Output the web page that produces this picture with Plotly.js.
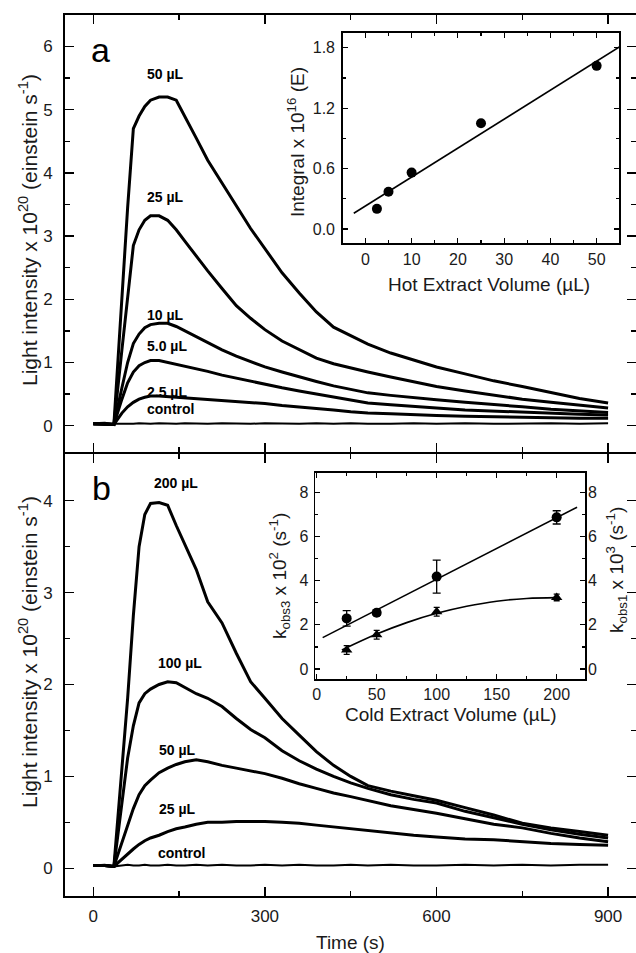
<!DOCTYPE html>
<html>
<head>
<meta charset="utf-8">
<script src="https://cdn.plot.ly/plotly-3.0.1.min.js"></script>
<style>html,body{margin:0;padding:0;background:#fff;}#chart{width:636px;height:953px;}</style>
</head>
<body>
<div id="chart"></div>
<script>
// ---------- main panels: time axis (s) ----------
const time = [0, 20, 36, 50, 60, 70, 80, 90, 100, 115, 130, 145, 160, 180, 200, 225, 250, 275, 300, 330, 360, 390, 420, 450, 480, 520, 560, 600, 650, 700, 750, 800, 850, 900];

// panel a: hot extract volumes (light intensity x 1e20 einstein/s)
const hot50  = [0.03,0.04,0.02,2.05,3.45,4.7,4.9,5.05,5.15,5.2,5.2,5.15,4.9,4.55,4.2,3.85,3.48,3.12,2.8,2.42,2.1,1.8,1.56,1.42,1.29,1.15,1.04,0.93,0.82,0.71,0.62,0.52,0.43,0.36];
const hot25  = [0.03,0.03,0.02,1.2,2.05,2.85,3.1,3.25,3.32,3.32,3.25,3.1,2.92,2.68,2.45,2.17,1.9,1.7,1.52,1.34,1.2,1.07,0.98,0.91,0.85,0.77,0.69,0.62,0.55,0.48,0.42,0.37,0.32,0.28];
const hot10  = [0.03,0.03,0.02,0.6,1.0,1.3,1.45,1.55,1.6,1.62,1.62,1.57,1.5,1.4,1.31,1.2,1.1,1.01,0.93,0.85,0.77,0.7,0.63,0.57,0.52,0.48,0.44,0.41,0.37,0.34,0.3,0.26,0.23,0.21];
const hot5   = [0.03,0.03,0.02,0.42,0.68,0.85,0.95,1.0,1.03,1.03,1.0,0.97,0.95,0.9,0.86,0.8,0.75,0.7,0.65,0.6,0.55,0.5,0.45,0.4,0.36,0.33,0.3,0.28,0.25,0.23,0.21,0.2,0.18,0.17];
const hot2p5 = [0.03,0.03,0.02,0.2,0.3,0.37,0.42,0.45,0.47,0.47,0.46,0.45,0.44,0.43,0.42,0.4,0.38,0.37,0.35,0.32,0.3,0.28,0.25,0.22,0.2,0.19,0.17,0.16,0.15,0.14,0.13,0.13,0.12,0.12];
const hotCtl = [0.03,0.03,0.02,0.03,0.03,0.03,0.04,0.03,0.03,0.04,0.03,0.03,0.04,0.03,0.03,0.04,0.03,0.03,0.04,0.03,0.03,0.04,0.03,0.04,0.03,0.03,0.04,0.03,0.04,0.03,0.04,0.04,0.03,0.04];

// panel b: cold extract volumes
const cold200 = [0.03,0.03,0.02,1.1,1.85,2.75,3.5,3.85,3.97,3.98,3.95,3.73,3.52,3.25,2.9,2.67,2.34,2.03,1.85,1.63,1.45,1.27,1.12,1.0,0.9,0.84,0.79,0.74,0.66,0.58,0.49,0.44,0.4,0.36];
const cold100 = [0.03,0.03,0.02,0.7,1.2,1.55,1.8,1.9,1.95,2.0,2.03,2.02,1.97,1.9,1.85,1.76,1.63,1.51,1.42,1.28,1.17,1.08,1.0,0.93,0.87,0.8,0.75,0.71,0.62,0.55,0.48,0.42,0.37,0.33];
const cold50  = [0.03,0.03,0.02,0.28,0.47,0.65,0.8,0.9,0.96,1.04,1.09,1.13,1.16,1.18,1.16,1.12,1.09,1.06,1.03,0.98,0.92,0.87,0.82,0.78,0.74,0.68,0.64,0.6,0.54,0.48,0.44,0.38,0.33,0.29];
const cold25  = [0.03,0.03,0.02,0.1,0.15,0.21,0.26,0.3,0.33,0.36,0.4,0.43,0.45,0.48,0.5,0.5,0.51,0.51,0.51,0.5,0.49,0.47,0.45,0.43,0.41,0.38,0.36,0.34,0.32,0.31,0.29,0.27,0.26,0.25];
const coldCtl = [0.03,0.04,0.02,0.03,0.04,0.03,0.03,0.04,0.03,0.03,0.04,0.03,0.03,0.04,0.03,0.04,0.03,0.03,0.04,0.03,0.04,0.03,0.03,0.04,0.03,0.04,0.03,0.03,0.04,0.03,0.04,0.03,0.04,0.04];

const hotLabels  = ["50 µL", "25 µL", "10 µL", "5.0 µL", "2.5 µL", "control"];
const hotLabelY  = [5.57, 3.62, 1.75, 1.26, 0.53, 0.26];
const coldLabels = ["200 µL", "100 µL", "50 µL", "25 µL", "control"];
const coldLabelY = [4.19, 2.23, 1.29, 0.64, 0.165];
const coldLabelX = [103, 110, 111, 111, 110];

// ---------- inset a ----------
const hotVol      = [2.5, 5, 10, 25, 50];
const hotIntegral = [0.2, 0.37, 0.56, 1.05, 1.62];
const hotFitX     = [-2.5, 55];
const hotFitY     = [0.156, 1.81];

// ---------- inset b ----------
const coldVol  = [25, 50, 100, 200];
const kobs3    = [2.29, 2.55, 4.18, 6.86];
const kobs3Err = [0.35, 0.12, 0.75, 0.3];
const kobs1    = [0.86, 1.55, 2.59, 3.24];
const kobs1Err = [0.2, 0.2, 0.2, 0.15];
const k3FitX   = [5, 217];
const k3FitY   = [1.42, 7.32];
const k1FitX   = [21, 50, 75, 100, 125, 150, 175, 200];
const k1FitY   = [0.86, 1.58, 2.10, 2.52, 2.84, 3.07, 3.19, 3.23];

// ---------- build ----------
const W = 636, H = 953;
const px = v => v / W;
const py = v => 1 - v / H;
const FONT = "Liberation Sans, Arial, Helvetica, sans-serif";
const INK = "#1a1a1a";
const TICK = 17, ITICK = 16, TITLE = 19;

function curve(y, xa, ya, w) {
  return {x: time, y: y, xaxis: xa, yaxis: ya, type: "scatter", mode: "lines",
          line: {color: "#000", width: w}, hoverinfo: "skip", showlegend: false};
}

const traces = [
  curve(hot50, "x2", "y2", 3), curve(hot25, "x2", "y2", 3), curve(hot10, "x2", "y2", 3),
  curve(hot5, "x2", "y2", 3), curve(hot2p5, "x2", "y2", 3), curve(hotCtl, "x2", "y2", 2),
  curve(cold200, "x", "y", 3), curve(cold100, "x", "y", 3), curve(cold50, "x", "y", 3),
  curve(cold25, "x", "y", 3), curve(coldCtl, "x", "y", 2),
  {x: hotFitX, y: hotFitY, xaxis: "x3", yaxis: "y3", mode: "lines", line: {color: "#000", width: 1.6}, showlegend: false},
  {x: hotVol, y: hotIntegral, xaxis: "x3", yaxis: "y3", mode: "markers", marker: {color: "#000", size: 10, symbol: "circle"}, showlegend: false},
  {x: k3FitX, y: k3FitY, xaxis: "x4", yaxis: "y4", mode: "lines", line: {color: "#000", width: 1.6}, showlegend: false},
  {x: k1FitX, y: k1FitY, xaxis: "x4", yaxis: "y4", mode: "lines", line: {color: "#000", width: 1.6, shape: "spline"}, showlegend: false},
  {x: coldVol, y: kobs3, xaxis: "x4", yaxis: "y4", mode: "markers",
   marker: {color: "#000", size: 10, symbol: "circle"},
   error_y: {type: "data", array: kobs3Err, visible: true, color: "#000", thickness: 1.3, width: 4}, showlegend: false},
  {x: coldVol, y: kobs1, xaxis: "x4", yaxis: "y5", mode: "markers",
   marker: {color: "#000", size: 10, symbol: "triangle-up"},
   error_y: {type: "data", array: kobs1Err, visible: true, color: "#000", thickness: 1.3, width: 3}, showlegend: false}
];

const mainX = {
  domain: [px(65), 1], range: [-49.5, 948.8], tick0: 0, dtick: 300,
  ticks: "inside", ticklen: 9, tickwidth: 1.5, tickcolor: "#000",
  minor: {dtick: 150, ticks: "inside", ticklen: 5, tickwidth: 1.5, tickcolor: "#000"},
  showline: true, linewidth: 2, linecolor: "#000", mirror: "ticks",
  showgrid: false, zeroline: false, tickfont: {family: FONT, size: TICK, color: INK}
};
const mainY = {
  dtick: 1, tick0: 0, ticks: "inside", ticklen: 9, tickwidth: 1.5, tickcolor: "#000",
  minor: {dtick: 0.5, ticks: "inside", ticklen: 5, tickwidth: 1.5, tickcolor: "#000"},
  showline: true, linewidth: 2, linecolor: "#000", mirror: "ticks",
  showgrid: false, zeroline: false, tickfont: {family: FONT, size: TICK, color: INK},
  ticklabelstandoff: 7
};
const insetCommon = {
  ticks: "inside", ticklen: 5, tickwidth: 1.2, tickcolor: "#000",
  showline: true, linewidth: 1.5, linecolor: "#000", mirror: "ticks",
  showgrid: false, zeroline: false, tickfont: {family: FONT, size: ITICK, color: INK}
};
const insetMinor = d => ({dtick: d, ticks: "inside", ticklen: 3, tickwidth: 1.2, tickcolor: "#000"});

const layout = {
  width: W, height: H, margin: {l: 0, r: 0, t: 0, b: 0},
  paper_bgcolor: "#fff", plot_bgcolor: "rgba(0,0,0,0)", showlegend: false,
  font: {family: FONT, color: INK},
  xaxis: Object.assign({}, mainX, {anchor: "y", ticklabelstandoff: 4}),
  yaxis: Object.assign({}, mainY, {anchor: "x", domain: [py(895.7), py(454)], range: [-0.298, 4.508]}),
  xaxis2: Object.assign({}, mainX, {anchor: "y2", showticklabels: false}),
  yaxis2: Object.assign({}, mainY, {anchor: "x2", domain: [py(451.7), py(15)], range: [-0.411, 6.498]}),
  xaxis3: Object.assign({}, insetCommon, {anchor: "y3", domain: [px(342.7), px(619.3)], range: [-4.9, 54.9],
    dtick: 10, tick0: 0, minor: insetMinor(5), ticklabelstandoff: 1}),
  yaxis3: Object.assign({}, insetCommon, {anchor: "x3", domain: [py(243), py(32.7)], range: [-0.139, 1.949],
    dtick: 0.6, tick0: 0, tickformat: ".1f", minor: insetMinor(0.3), ticklabelstandoff: 3}),
  xaxis4: Object.assign({}, insetCommon, {anchor: "y4", domain: [px(315), px(585)], range: [-1.4, 223.6],
    dtick: 50, tick0: 0, minor: insetMinor(25), ticklabelstandoff: 0}),
  yaxis4: Object.assign({}, insetCommon, {anchor: "x4", domain: [py(679), py(472.7)], range: [-0.45, 8.88],
    dtick: 2, tick0: 0, mirror: true, minor: insetMinor(1), ticklabelstandoff: 2}),
  yaxis5: Object.assign({}, insetCommon, {anchor: "x4", overlaying: "y4", side: "right", range: [-0.45, 8.88],
    showline: false, mirror: false, dtick: 2, tick0: 0, minor: insetMinor(1), ticklabelstandoff: 2}),
  annotations: [],
  shapes: []
};

const ann = layout.annotations;
// curve labels
hotLabels.forEach((txt, i) => ann.push({x: 90, y: hotLabelY[i], xref: "x2", yref: "y2", text: "<b>" + txt + "</b>",
  showarrow: false, xanchor: "left", yanchor: "middle", font: {family: FONT, size: 14, color: "#000"}}));
coldLabels.forEach((txt, i) => ann.push({x: coldLabelX[i], y: coldLabelY[i], xref: "x", yref: "y", text: "<b>" + txt + "</b>",
  showarrow: false, xanchor: "left", yanchor: "middle", font: {family: FONT, size: 14, color: "#000"}}));
// panel letters
ann.push({x: px(100), y: py(50), xref: "paper", yref: "paper", text: "a", showarrow: false, xanchor: "center", yanchor: "middle", font: {family: FONT, size: 34, color: "#000"}});
ann.push({x: px(101), y: py(488), xref: "paper", yref: "paper", text: "b", showarrow: false, xanchor: "center", yanchor: "middle", font: {family: FONT, size: 34, color: "#000"}});
// main axis titles
const yTitle = "Light intensity x 10<sup>20</sup> (einstein s<sup>-1</sup>)";
ann.push({x: px(28), y: py(230), xref: "paper", yref: "paper", text: yTitle, textangle: -90, showarrow: false, xanchor: "center", yanchor: "middle", font: {family: FONT, size: 21, color: INK}});
ann.push({x: px(28), y: py(652), xref: "paper", yref: "paper", text: yTitle, textangle: -90, showarrow: false, xanchor: "center", yanchor: "middle", font: {family: FONT, size: 21, color: INK}});
ann.push({x: px(350), y: py(942), xref: "paper", yref: "paper", text: "Time (s)", showarrow: false, xanchor: "center", yanchor: "middle", font: {family: FONT, size: TITLE, color: INK}});
// inset titles
ann.push({x: px(296), y: py(142), xref: "paper", yref: "paper", text: "Integral x 10<sup>16</sup> (E)", textangle: -90, showarrow: false, xanchor: "center", yanchor: "middle", font: {family: FONT, size: TITLE, color: INK}});
ann.push({x: px(489), y: py(284), xref: "paper", yref: "paper", text: "Hot Extract Volume (µL)", showarrow: false, xanchor: "center", yanchor: "middle", font: {family: FONT, size: TITLE, color: INK}});
ann.push({x: px(279), y: py(576), xref: "paper", yref: "paper", text: "k<sub>obs3</sub> x 10<sup>2</sup> (s<sup>-1</sup>)", textangle: -90, showarrow: false, xanchor: "center", yanchor: "middle", font: {family: FONT, size: TITLE, color: INK}});
ann.push({x: px(616), y: py(570), xref: "paper", yref: "paper", text: "k<sub>obs1</sub> x 10<sup>3</sup> (s<sup>-1</sup>)", textangle: -90, showarrow: false, xanchor: "center", yanchor: "middle", font: {family: FONT, size: TITLE, color: INK}});
ann.push({x: px(451), y: py(714), xref: "paper", yref: "paper", text: "Cold Extract Volume (µL)", showarrow: false, xanchor: "center", yanchor: "middle", font: {family: FONT, size: TITLE, color: INK}});

Plotly.newPlot("chart", traces, layout, {staticPlot: true, displayModeBar: false});
</script>
</body>
</html>
